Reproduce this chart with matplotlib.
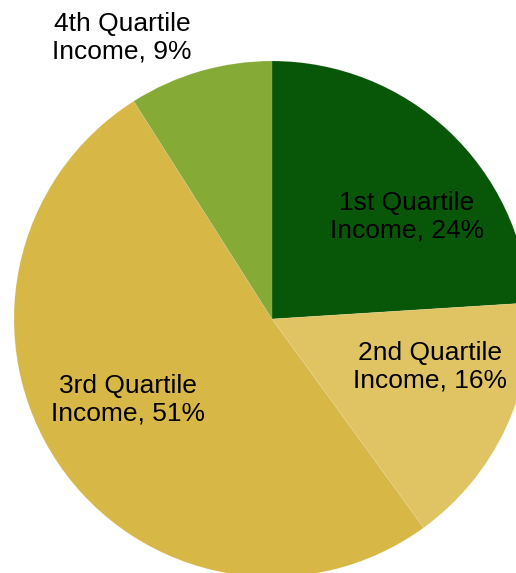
import matplotlib.pyplot as plt

# data
labels = ["1st Quartile\nIncome, 24%", "2nd Quartile\nIncome, 16%",
          "3rd Quartile\nIncome, 51%", "4th Quartile\nIncome, 9%"]
shares = [24, 16, 51, 9]
colors = ["#085608", "#e0c464", "#d7b846", "#86aa36"]

# label centres in pixel coords (x, y from top)
label_pos = [(407, 217), (430, 367), (128, 400), (122, 38)]

W, H = 516, 573
fig = plt.figure(figsize=(W / 100, H / 100), dpi=100)
ax = fig.add_axes([0, 0, 1, 1])

ax.pie(shares, colors=colors, startangle=90, counterclock=False,
       center=(272, H - 319), radius=258,
       wedgeprops=dict(linewidth=0.5, edgecolor=(1, 1, 1, 0.15)))

for lab, (x, y) in zip(labels, label_pos):
    ax.text(x, H - y, lab, ha="center", va="center", fontsize=19,
            family="Liberation Sans", color="black", linespacing=1.2)

ax.set_xlim(0, W)
ax.set_ylim(0, H)
ax.set_aspect("equal")
ax.axis("off")

fig.savefig("out.png", dpi=100)
